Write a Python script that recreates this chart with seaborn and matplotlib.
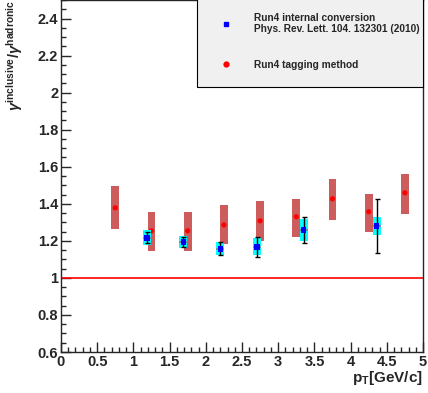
""" Ratio of inclusive to hadronic photons vs pT """

import matplotlib
matplotlib.use("Agg")
import matplotlib.pyplot as plt
import seaborn as sns
from matplotlib.lines import Line2D
from matplotlib.ticker import MultipleLocator, FormatStrFormatter


# Run4 tagging method: points and systematic band edges
tag_pt = [0.75, 1.25, 1.75, 2.25, 2.75, 3.25, 3.75, 4.25, 4.75]
tag_ratio = [1.378, 1.254, 1.254, 1.286, 1.308, 1.330, 1.427, 1.357, 1.459]
tag_sys_lo = [1.265, 1.146, 1.146, 1.184, 1.200, 1.222, 1.314, 1.249, 1.346]
tag_sys_hi = [1.497, 1.357, 1.357, 1.395, 1.416, 1.427, 1.535, 1.454, 1.562]

# Run4 internal conversion (PRL 104, 132301)
ic_pt = [1.19, 1.69, 2.20, 2.71, 3.35, 4.36]
ic_ratio = [1.216, 1.195, 1.157, 1.168, 1.260, 1.281]
ic_stat = [0.030, 0.027, 0.035, 0.054, 0.070, 0.145]
ic_sys = [0.040, 0.033, 0.035, 0.046, 0.060, 0.050]
ic_pt_err = 0.055


sns.set_style("ticks")
plt.rcParams["font.family"] = ["Liberation Sans", "DejaVu Sans"]
plt.rcParams["font.weight"] = "bold"
plt.rcParams["axes.labelweight"] = "bold"
plt.rcParams["mathtext.fontset"] = "custom"
plt.rcParams["mathtext.rm"] = "Liberation Sans"
plt.rcParams["mathtext.it"] = "Liberation Sans:italic"
plt.rcParams["mathtext.bf"] = "Liberation Sans:bold"

fig = plt.figure(figsize=(4.28, 3.93), dpi=100)
ax = fig.add_axes([61 / 428, 1 - 352 / 393, 362 / 428, 352 / 393])

# systematic boxes
tag_height = [hi - lo for lo, hi in zip(tag_sys_lo, tag_sys_hi)]
ax.bar(tag_pt, tag_height, bottom=tag_sys_lo, width=0.11,
       color="indianred", linewidth=0, zorder=2)
sns.scatterplot(x=tag_pt, y=tag_ratio, color="red", marker="o", s=14,
                edgecolor="none", zorder=3, ax=ax)

ic_bottom = [r - s for r, s in zip(ic_ratio, ic_sys)]
ic_height = [2 * s for s in ic_sys]
ax.bar(ic_pt, ic_height, bottom=ic_bottom, width=0.11,
       color="cyan", linewidth=0, zorder=4)
ax.errorbar(ic_pt, ic_ratio, xerr=ic_pt_err, fmt="none", ecolor="gray",
            elinewidth=1.2, zorder=5)
ax.errorbar(ic_pt, ic_ratio, yerr=ic_stat, fmt="none", ecolor="black",
            elinewidth=1, capsize=1.8, capthick=1, zorder=5)
sns.scatterplot(x=ic_pt, y=ic_ratio, color="blue", marker="s", s=16,
                edgecolor="none", zorder=6, ax=ax)

ax.axhline(1, color="red", lw=1.2, zorder=1)

ax.set_xlim(0, 5)
ax.set_ylim(0.6, 2.5)
ax.xaxis.set_major_locator(MultipleLocator(0.5))
ax.xaxis.set_minor_locator(MultipleLocator(0.1))
ax.yaxis.set_major_locator(MultipleLocator(0.2))
ax.yaxis.set_minor_locator(MultipleLocator(0.05))
ax.xaxis.set_major_formatter(FormatStrFormatter("%g"))
ax.yaxis.set_major_formatter(FormatStrFormatter("%g"))
ax.tick_params(which="both", direction="in", top=False, right=False,
               width=1, labelsize=10.5)
ax.tick_params(which="major", length=7, pad=2)
ax.tick_params(which="minor", length=3.5)
for side in ax.spines.values():
    side.set_linewidth(1)
    side.set_visible(True)

ax.set_xlabel(r"p$_{\mathbf{T}}$[GeV/c]", loc="right", fontsize=11,
              fontweight="bold", labelpad=0)
ax.set_ylabel(r"$\gamma^{\mathrm{inclusive}}/\gamma^{\mathrm{hadronic}}$",
              loc="top", fontsize=10.5, fontweight="normal")
ax.yaxis.set_label_coords(-0.1, 1.0)

handles = [
    Line2D([], [], marker="s", color="blue", ls="none", markersize=3.5),
    Line2D([], [], marker="o", color="red", ls="none", markersize=3.5),
]
labels = ["Run4 internal conversion\nPhys. Rev. Lett. 104. 132301 (2010)",
          "Run4 tagging method"]
legend = fig.legend(handles, labels, loc="lower left",
                    bbox_to_anchor=(197 / 428, 1 - 87 / 393, 226 / 428, 0.3),
                    mode="expand", borderaxespad=0, borderpad=1.7,
                    labelspacing=2.5, handlelength=2.3, handletextpad=1.6,
                    prop={"weight": "bold", "size": 7.3}, fancybox=False,
                    framealpha=1, facecolor="#f0f0f0", edgecolor="black")
legend.get_frame().set_linewidth(0.8)

fig.savefig("out.png", dpi=100)
